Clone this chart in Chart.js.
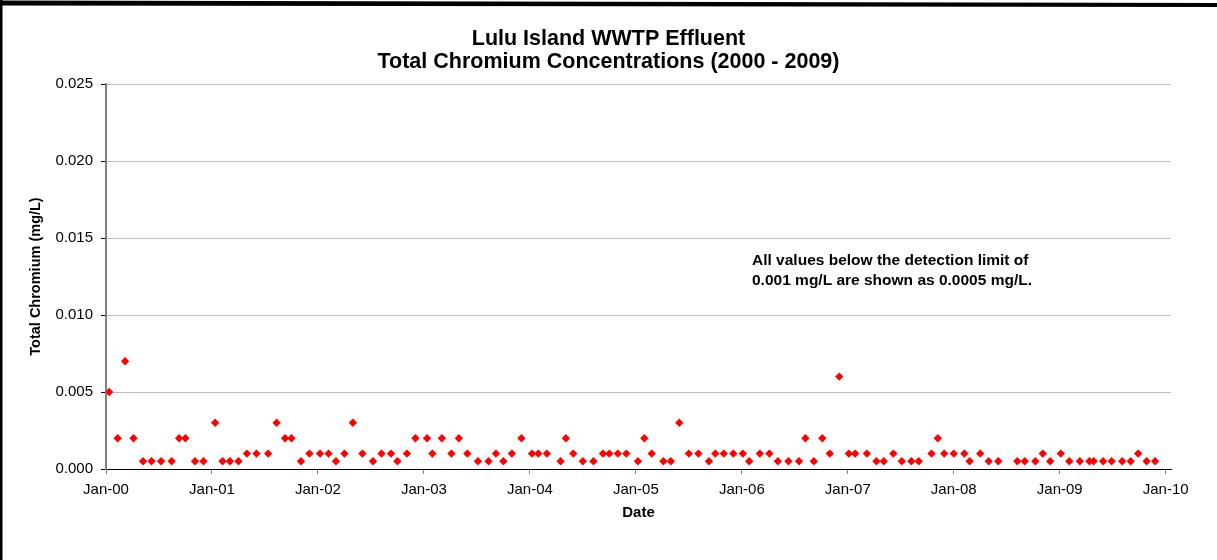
<!DOCTYPE html>
<html>
<head>
<meta charset="utf-8">
<script src="https://cdn.jsdelivr.net/npm/chart.js@4.4.1/dist/chart.umd.min.js"></script>
<style>
  html, body { margin: 0; padding: 0; background: #fff; }
  #c { display: block; }
</style>
</head>
<body>
<canvas id="c" width="1217" height="560"></canvas>
<script>
// Sample dates as decimal years
const sampleDates = [
  2000.03, 2000.11, 2000.18, 2000.26, 2000.35, 2000.43, 2000.52, 2000.62, 2000.69, 2000.75, 2000.84, 2000.92,
  2001.03, 2001.10, 2001.17, 2001.25, 2001.33, 2001.42, 2001.53, 2001.61, 2001.69, 2001.75, 2001.84, 2001.92,
  2002.02, 2002.10, 2002.17, 2002.25, 2002.33, 2002.42, 2002.52, 2002.60, 2002.69, 2002.75, 2002.84, 2002.92,
  2003.03, 2003.08, 2003.17, 2003.26, 2003.33, 2003.41, 2003.51, 2003.61, 2003.68, 2003.75, 2003.83, 2003.92,
  2004.02, 2004.08, 2004.16, 2004.29, 2004.34, 2004.41, 2004.50, 2004.60, 2004.69, 2004.75, 2004.83, 2004.91,
  2005.02, 2005.08, 2005.15, 2005.26, 2005.33, 2005.41, 2005.50, 2005.59, 2005.69, 2005.75, 2005.83, 2005.92,
  2006.01, 2006.07, 2006.17, 2006.26, 2006.34, 2006.44, 2006.54, 2006.60, 2006.68, 2006.76, 2006.83, 2006.92,
  2007.01, 2007.07, 2007.18, 2007.27, 2007.34, 2007.43, 2007.51, 2007.60, 2007.67, 2007.79, 2007.85, 2007.91,
  2008.00, 2008.10, 2008.15, 2008.25, 2008.33, 2008.42, 2008.60, 2008.67, 2008.77, 2008.84, 2008.91,
  2009.01, 2009.09, 2009.19, 2009.28, 2009.32, 2009.41, 2009.49, 2009.59, 2009.67, 2009.74, 2009.82, 2009.90
];

// Total chromium concentrations (mg/L)
const chromiumValues = [
  0.005, 0.002, 0.007, 0.002, 0.0005, 0.0005, 0.0005, 0.0005, 0.002, 0.002, 0.0005, 0.0005,
  0.003, 0.0005, 0.0005, 0.0005, 0.001, 0.001, 0.001, 0.003, 0.002, 0.002, 0.0005, 0.001,
  0.001, 0.001, 0.0005, 0.001, 0.003, 0.001, 0.0005, 0.001, 0.001, 0.0005, 0.001, 0.002,
  0.002, 0.001, 0.002, 0.001, 0.002, 0.001, 0.0005, 0.0005, 0.001, 0.0005, 0.001, 0.002,
  0.001, 0.001, 0.001, 0.0005, 0.002, 0.001, 0.0005, 0.0005, 0.001, 0.001, 0.001, 0.001,
  0.0005, 0.002, 0.001, 0.0005, 0.0005, 0.003, 0.001, 0.001, 0.0005, 0.001, 0.001, 0.001,
  0.001, 0.0005, 0.001, 0.001, 0.0005, 0.0005, 0.0005, 0.002, 0.0005, 0.002, 0.001, 0.006,
  0.001, 0.001, 0.001, 0.0005, 0.0005, 0.001, 0.0005, 0.0005, 0.0005, 0.001, 0.002, 0.001,
  0.001, 0.001, 0.0005, 0.001, 0.0005, 0.0005, 0.0005, 0.0005, 0.0005, 0.001, 0.0005,
  0.001, 0.0005, 0.0005, 0.0005, 0.0005, 0.0005, 0.0005, 0.0005, 0.0005, 0.001, 0.0005, 0.0005
];

// Tick years on the date axis
const tickYears = [2000, 2001, 2002, 2003, 2004, 2005, 2006, 2007, 2008, 2009, 2010];
const yTicks = [0, 0.005, 0.010, 0.015, 0.020, 0.025];

const titleLines = ['Lulu Island WWTP Effluent', 'Total Chromium Concentrations (2000 - 2009)'];
const noteLines = ['All values below the detection limit of', '0.001 mg/L are shown as 0.0005 mg/L.'];

const FONT = "'Liberation Sans', Arial, Helvetica, sans-serif";

const points = sampleDates.map((d, i) => ({ x: d, y: chromiumValues[i] }));

const decorPlugin = {
  id: 'decor',
  afterDraw(chart) {
    const ctx = chart.ctx;
    ctx.save();
    // frame lines (top and left)
    ctx.fillStyle = '#000';
    ctx.beginPath();
    ctx.moveTo(0, 0.5); ctx.lineTo(1217, 3); ctx.lineTo(1217, 7); ctx.lineTo(0, 5.5);
    ctx.closePath();
    ctx.fill();
    ctx.fillRect(0, 0, 2.5, 560);
    // note
    ctx.font = "bold 15.5px " + FONT;
    ctx.fillStyle = '#000';
    ctx.textAlign = 'left';
    ctx.textBaseline = 'alphabetic';
    ctx.fillText(noteLines[0], 752, 265);
    ctx.fillText(noteLines[1], 752, 285);
    ctx.restore();
  }
};

new Chart(document.getElementById('c'), {
  type: 'scatter',
  data: {
    datasets: [{
      label: 'Total Chromium',
      data: points,
      pointStyle: 'rectRot',
      pointRadius: 4.2,
      pointHoverRadius: 4.2,
      pointBorderWidth: 0,
      backgroundColor: '#ff0000',
      borderColor: '#ff0000',
      showLine: false
    }]
  },
  options: {
    responsive: false,
    animation: false,
    devicePixelRatio: 1,
    layout: { padding: { left: 46, right: 46, top: 0, bottom: 0 } },
    plugins: {
      legend: { display: false },
      tooltip: { enabled: false },
      title: {
        display: true,
        text: titleLines,
        color: '#000',
        font: { family: FONT, size: 21.5, weight: 'bold', lineHeight: 1.07 },
        padding: { top: 27.3, bottom: 10.7 }
      }
    },
    scales: {
      x: {
        type: 'linear',
        position: 'bottom',
        min: 2000,
        max: 2010.05,
        afterBuildTicks(scale) { scale.ticks = tickYears.map(v => ({ value: v })); },
        afterFit(scale) { scale.height = 91; },
        ticks: {
          autoSkip: false,
          maxRotation: 0,
          minRotation: 0,
          padding: 7,
          color: '#000',
          font: { family: FONT, size: 15 },
          callback: (v) => 'Jan-' + String(Math.round(v) % 100).padStart(2, '0')
        },
        grid: {
          drawOnChartArea: false,
          drawTicks: true,
          tickLength: 5,
          tickColor: '#808080'
        },
        border: { display: true, color: '#000', width: 1 },
        title: {
          display: true,
          text: 'Date',
          color: '#000',
          font: { family: FONT, size: 15, weight: 'bold' },
          padding: { top: 0, bottom: 38 }
        }
      },
      y: {
        type: 'linear',
        min: 0,
        max: 0.025,
        afterBuildTicks(scale) { scale.ticks = yTicks.map(v => ({ value: v })); },
        afterFit(scale) { scale.width = 60; },
        ticks: {
          padding: 8,
          color: '#000',
          font: { family: FONT, size: 15 },
          callback: (v) => Number(v).toFixed(3)
        },
        grid: {
          color: (c) => (c.tick && c.tick.value === 0) ? '#000' : '#c0c0c0',
          tickColor: '#000',
          tickLength: 5,
          lineWidth: 1
        },
        border: { display: true, color: '#808080', width: 2 },
        title: {
          display: true,
          text: 'Total Chromium (mg/L)',
          color: '#000',
          font: { family: FONT, size: 14.5, weight: 'bold' },
          padding: { top: -18.6, bottom: 0 }
        }
      }
    }
  },
  plugins: [decorPlugin]
});
</script>
</body>
</html>
